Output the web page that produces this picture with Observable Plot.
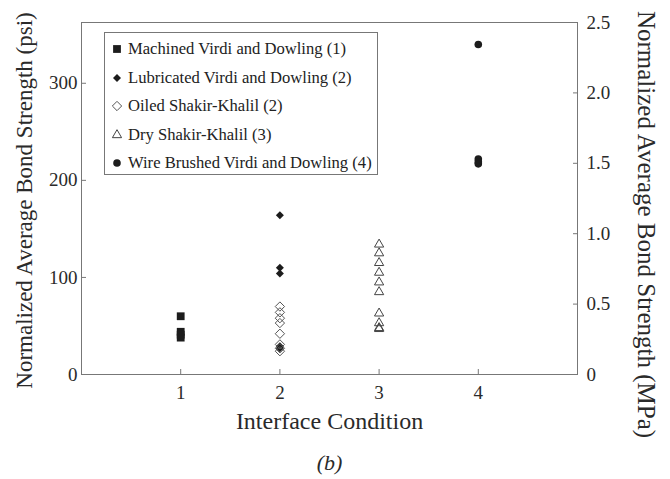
<!DOCTYPE html>
<html>
<head>
<meta charset="utf-8">
<script src="https://cdn.jsdelivr.net/npm/d3@7"></script>
<script src="https://cdn.jsdelivr.net/npm/@observablehq/plot@0.6"></script>
<style>
  html, body { margin: 0; padding: 0; background: #fff; }
  #wrap { position: relative; width: 670px; height: 479px; }
  #legend { position: absolute; left: 104px; top: 32px; width: 274px; height: 143px;
    border: 1px solid #777; background: #fff; box-sizing: border-box;
    font-family: "Liberation Serif", "DejaVu Serif", "Times New Roman", serif; font-size: 16.6px; color: #222; }
  .item { position: absolute; left: 0; height: 20px; display: flex; align-items: center; white-space: nowrap; }
  .item svg { width: 23px; height: 20px; }
</style>
</head>
<body>
<div id="wrap"></div>
<script>
// ---- data (psi) ----
const seriesNames = [
  "Machined Virdi and Dowling (1)",
  "Lubricated Virdi and Dowling (2)",
  "Oiled Shakir-Khalil (2)",
  "Dry Shakir-Khalil (3)",
  "Wire Brushed Virdi and Dowling (4)"
];
const seriesCondition = [1, 2, 2, 3, 4];
const machined = [60, 44, 41, 38];
const lubricated = [164, 110, 104, 29, 27];
const oiled = [70, 64, 58, 53, 42, 31, 27, 24];
const dry = [134, 125, 115, 105, 95, 85, 63, 53, 48, 47];
const wireBrushed = [340, 222, 219, 217];
const xTicks = [1, 2, 3, 4];
const psiTicks = [0, 100, 200, 300];
const mpaTicks = [0, 0.5, 1.0, 1.5, 2.0, 2.5];
const PSI_PER_MPA = 145.038;

const seriesValues = [machined, lubricated, oiled, dry, wireBrushed];
const rows = seriesValues.flatMap((vals, s) =>
  vals.map(v => ({series: seriesNames[s], x: seriesCondition[s], y: v})));

// styles per series
const styles = [
  {symbol: "square", fill: "#1c1c1c", stroke: "none", r: 4.4},
  {symbol: "diamond2", fill: "#1c1c1c", stroke: "none", r: 3.6},
  {symbol: "diamond2", fill: "none", stroke: "#555", r: 4.2},
  {symbol: "triangle2", fill: "none", stroke: "#444", r: 4.4},
  {symbol: "circle", fill: "#1c1c1c", stroke: "none", r: 3.8}
];

const FONT = "'Liberation Serif', 'DejaVu Serif', 'Times New Roman', serif";
const ink = "#2a2a2a";

const marks = [
  Plot.frame({stroke: "#777"}),
  Plot.axisX(xTicks, {anchor: "bottom", tickSize: -5, tickPadding: 16, fontSize: 19,
    fontFamily: FONT, stroke: "#777", fill: ink, label: null}),
  Plot.axisY(psiTicks, {anchor: "left", tickSize: -5, tickPadding: 9, fontSize: 19,
    fontFamily: FONT, stroke: "#777", fill: ink, label: null}),
  Plot.axisY(mpaTicks.map(v => v * PSI_PER_MPA), {anchor: "right", tickSize: -5, tickPadding: 14,
    fontSize: 19, fontFamily: FONT, stroke: "#777", fill: ink, label: null,
    tickFormat: d => { const m = d / PSI_PER_MPA; return m === 0 ? "0" : d3.format(".1f")(m); }}),
  Plot.text(["Normalized Average Bond Strength (psi)"], {frameAnchor: "left", text: d => d,
    textAnchor: "middle", rotate: -90, dx: -57, dy: 2, fontSize: 23, fontFamily: FONT, fill: ink}),
  Plot.text(["Normalized Average Bond Strength (MPa)"], {frameAnchor: "right", text: d => d,
    textAnchor: "middle", rotate: 90, dx: 68, dy: 26, fontSize: 25, fontFamily: FONT, fill: ink}),
  Plot.text(["Interface Condition"], {frameAnchor: "bottom", text: d => d,
    dy: 54, fontSize: 24, fontFamily: FONT, fill: ink}),
  Plot.text(["(b)"], {frameAnchor: "bottom", text: d => d,
    dy: 95, fontSize: 22, fontFamily: FONT, fontStyle: "italic", fill: ink})
];
seriesNames.forEach((name, i) => {
  const st = styles[i];
  marks.push(Plot.dot(rows.filter(d => d.series === name), {
    x: "x", y: "y", symbol: () => st.symbol, r: st.r,
    fill: st.fill, stroke: st.stroke, strokeWidth: 1
  }));
});

const chart = Plot.plot({
  width: 670,
  height: 479,
  marginLeft: 81,
  marginRight: 93,
  marginTop: 22,
  marginBottom: 105,
  style: {background: "#fff", fontFamily: FONT},
  x: {domain: [0, 5], axis: null},
  y: {domain: [0, 2.5 * PSI_PER_MPA], axis: null},
  symbol: {type: "identity"},
  marks
});
const wrap = document.getElementById("wrap");
wrap.appendChild(chart);

// legend
const legend = document.createElement("div");
legend.id = "legend";
const symMap = {square: d3.symbolSquare, diamond2: d3.symbolDiamond2, triangle2: d3.symbolTriangle2, circle: d3.symbolCircle};
seriesNames.forEach((name, i) => {
  const st = styles[i];
  const item = document.createElement("div");
  item.className = "item";
  item.style.top = (6 + i * 28.5) + "px";
  const path = d3.symbol(symMap[st.symbol], Math.PI * st.r * st.r)();
  item.innerHTML = `<svg viewBox="-12 -10 23 20"><path d="${path}" fill="${st.fill}" stroke="${st.stroke}" stroke-width="1"/></svg><span>${name}</span>`;
  legend.appendChild(item);
});
wrap.appendChild(legend);
</script>
</body>
</html>
